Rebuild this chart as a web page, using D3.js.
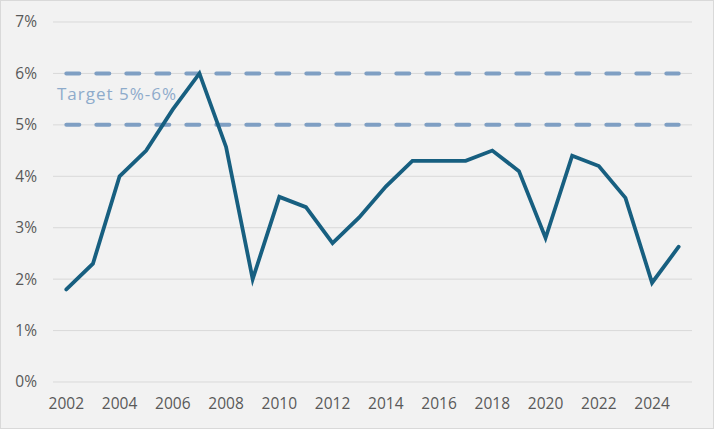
<!DOCTYPE html>
<html><head><meta charset="utf-8">
<script src="https://cdn.jsdelivr.net/npm/d3@7"></script>
<style>body{margin:0;background:#fff;}svg{display:block;}</style>
</head><body>
<svg id="c" width="714" height="429"></svg>
<script>
const years = [2002,2003,2004,2005,2006,2007,2008,2009,2010,2011,2012,2013,2014,2015,2016,2017,2018,2019,2020,2021,2022,2023,2024,2025];
const values = [1.8,2.3,4.0,4.5,5.3,6.0,4.57,2.0,3.6,3.4,2.7,3.2,3.8,4.3,4.3,4.3,4.5,4.1,2.8,4.4,4.2,3.58,1.93,2.63];
const targetLow = 5, targetHigh = 6;
const yTicks = [0,1,2,3,4,5,6,7];
const xTickYears = [2002,2004,2006,2008,2010,2012,2014,2016,2018,2020,2022,2024];
const targetLabel = "Target 5%-6%";

(function(){
const W = 714, H = 429;
const svg = d3.select("#c");
const font = "'Open Sans', sans-serif";
svg.append("rect").attr("x",0.5).attr("y",0.5).attr("width",W-1).attr("height",H-1)
  .attr("fill","#f2f2f2").attr("stroke","#d9d9d9");

const pl = 53, pr = 692, pt = 22, pb = 382;
const x = d3.scaleBand().domain(years).range([pl,pr]);
const cx = d => x(d) + x.bandwidth()/2;
const y = d3.scaleLinear().domain([0,7]).range([pb,pt]);

svg.append("g").selectAll("line").data(yTicks).join("line")
  .attr("x1",pl).attr("x2",pr).attr("y1",d=>y(d)).attr("y2",d=>y(d))
  .attr("stroke","#d9d9d9").attr("stroke-width",1);

const ya = svg.append("g").attr("transform",`translate(${pl},0)`)
  .call(d3.axisLeft(y).tickValues(yTicks).tickFormat(d=>d+"%").tickSize(0).tickPadding(16));
ya.select(".domain").remove();
ya.selectAll("text").attr("font-family",font).attr("font-size",15.5).attr("fill","#595959");

const xa = svg.append("g").attr("transform",`translate(0,${pb})`)
  .call(d3.axisBottom(x).tickValues(xTickYears).tickSize(0).tickPadding(16));
xa.select(".domain").remove();
xa.selectAll("text").attr("font-family",font).attr("font-size",15.5).attr("fill","#595959");

[targetLow,targetHigh].forEach(t=>{
  svg.append("path")
    .attr("d", d3.line().x(d=>cx(d)).y(()=>y(t))(years))
    .attr("fill","none").attr("stroke","#7f9fc3").attr("stroke-width",4)
    .attr("stroke-dasharray","13,17").attr("stroke-linecap","round");
});

svg.append("text").attr("x",57).attr("y",100).text(targetLabel)
  .attr("font-family",font).attr("font-size",17).attr("letter-spacing",1)
  .attr("fill","#8eabcb");

svg.append("path")
  .attr("d", d3.line().x((d,i)=>cx(years[i])).y(d=>y(d))(values))
  .attr("fill","none").attr("stroke","#175f80").attr("stroke-width",3.8)
  .attr("stroke-linejoin","miter").attr("stroke-linecap","round");
})();
</script>
</body></html>
